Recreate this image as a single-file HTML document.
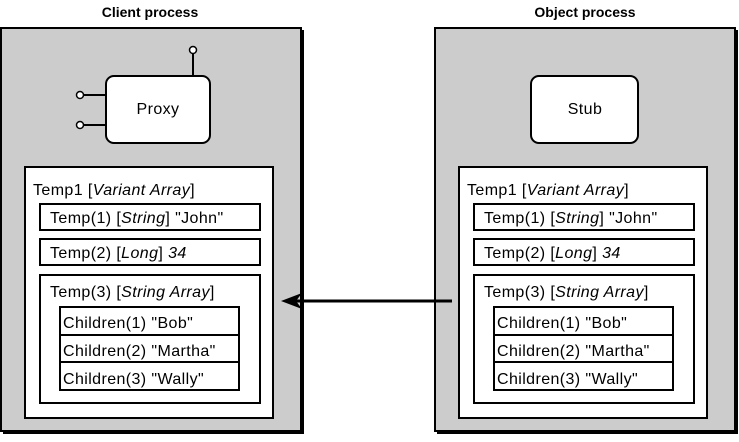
<!DOCTYPE html>
<html><head><style>
body{margin:0;background:#fff;}
svg text{font-family:"Liberation Sans",Arial,sans-serif;font-size:16px;letter-spacing:0.4px;fill:#000;}
</style></head><body>
<svg width="739" height="437" viewBox="0 0 739 437" xmlns="http://www.w3.org/2000/svg">
<text x="150" y="17" text-anchor="middle" style="font-weight:bold;font-size:14px;letter-spacing:0">Client process</text>
<text x="585" y="17" text-anchor="middle" style="font-weight:bold;font-size:14px;letter-spacing:0">Object process</text>

<g id="L">
<rect x="3" y="30" width="301" height="404" fill="#000"/>
<rect x="1" y="28" width="300" height="403" fill="#cccccc" stroke="#000" stroke-width="2"/>
<rect x="25" y="167" width="248" height="251" fill="#fff" stroke="#000" stroke-width="2"/>
<text x="33" y="195">Temp1 [<tspan font-style="italic">Variant Array</tspan>]</text>
<rect x="40" y="204" width="220" height="26" fill="#fff" stroke="#000" stroke-width="2"/>
<text x="50" y="223">Temp(1) [<tspan font-style="italic">String</tspan>] "John"</text>
<rect x="40" y="239" width="220" height="26" fill="#fff" stroke="#000" stroke-width="2"/>
<text x="50" y="258">Temp(2) [<tspan font-style="italic">Long</tspan>] <tspan font-style="italic">34</tspan></text>
<rect x="40" y="275" width="220" height="128" fill="#fff" stroke="#000" stroke-width="2"/>
<text x="50" y="297">Temp(3) [<tspan font-style="italic">String Array</tspan>]</text>
<rect x="60" y="307" width="179" height="83" fill="#fff" stroke="#000" stroke-width="2"/>
<line x1="60" y1="335" x2="239" y2="335" stroke="#000" stroke-width="2"/>
<line x1="60" y1="362" x2="239" y2="362" stroke="#000" stroke-width="2"/>
<text x="63" y="328">Children(1) "Bob"</text>
<text x="63" y="356">Children(2) "Martha"</text>
<text x="63" y="384">Children(3) "Wally"</text>
</g>

<line x1="193" y1="53" x2="193" y2="76" stroke="#000" stroke-width="2"/>
<circle cx="193" cy="50" r="3.5" fill="#fff" stroke="#000" stroke-width="1.5"/>
<line x1="84" y1="95" x2="106" y2="95" stroke="#000" stroke-width="2"/>
<line x1="84" y1="125" x2="106" y2="125" stroke="#000" stroke-width="2"/>
<circle cx="80" cy="95" r="3.5" fill="#fff" stroke="#000" stroke-width="1.5"/>
<circle cx="80" cy="125" r="3.5" fill="#fff" stroke="#000" stroke-width="1.5"/>
<rect x="106" y="76" width="104" height="67" rx="8" fill="#fff" stroke="#000" stroke-width="2"/>
<text x="158" y="114" text-anchor="middle">Proxy</text>

<use href="#L" x="434"/>
<rect x="531" y="76" width="107" height="67" rx="8" fill="#fff" stroke="#000" stroke-width="2"/>
<text x="585" y="114" text-anchor="middle">Stub</text>

<line x1="295" y1="301" x2="452" y2="301" stroke="#000" stroke-width="3"/>
<polygon points="281,301 302,293 296,301 302,309" fill="#000"/>
</svg>
</body></html>
